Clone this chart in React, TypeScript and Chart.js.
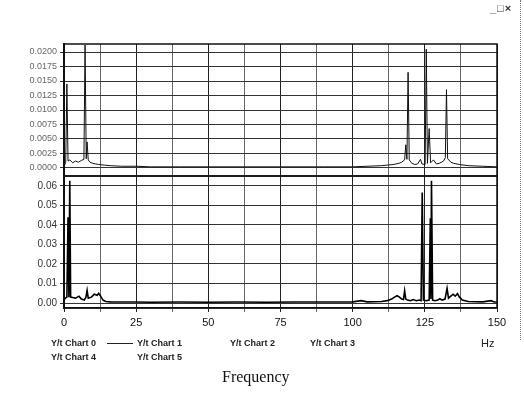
import React, { useEffect, useRef } from "react";
import { Chart, registerables } from "chart.js";
Chart.register(...registerables);

// Upper panel spectrum (Hz, amplitude)
const topFreq = [
  0, 0.6, 1.0, 1.4, 2, 3, 4, 5, 6, 6.9, 7.3, 7.7, 8.0, 8.4, 9, 10, 11, 12, 14, 16, 20, 25, 30, 40, 50, 60, 70, 80, 90, 100,
  105, 110, 112, 114, 116, 117, 118, 118.4, 118.8, 119.2, 119.6, 120.5, 121.5, 122.5, 123.5, 124, 125.1, 125.5, 125.9,
  126.5, 127, 128, 129, 130, 131.5, 132.1, 132.5, 132.9, 134, 135, 137, 140, 145, 150,
];
const topVal = [
  0.0002, 0.001, 0.0145, 0.0012, 0.0014, 0.0009, 0.0012, 0.001, 0.0013, 0.0015, 0.0212, 0.0016, 0.0045, 0.0014, 0.001,
  0.0008, 0.0007, 0.0006, 0.0005, 0.0004, 0.0003, 0.0003, 0.0002, 0.0002, 0.0002, 0.0002, 0.0002, 0.0002, 0.0002, 0.0002,
  0.0003, 0.0004, 0.0005, 0.0006, 0.0008, 0.001, 0.0014, 0.004, 0.0015, 0.0165, 0.0014, 0.0008, 0.0006, 0.0007, 0.0015,
  0.0007, 0.0006, 0.0205, 0.0008, 0.0068, 0.0009, 0.0014, 0.0007, 0.0008, 0.0012, 0.0018, 0.0135, 0.0016, 0.001, 0.0008,
  0.0006, 0.0004, 0.0003, 0.0002,
];

// Lower panel spectrum (Hz, amplitude)
const botFreq = [
  0, 0.5, 1.0, 1.4, 1.7, 2.0, 2.3, 3, 4, 5.2, 6, 7, 7.6, 8.0, 8.4, 9.5, 10.5, 11.5, 12.0, 12.7, 13.5, 14.5, 16, 20, 25,
  30, 40, 50, 60, 70, 80, 90, 100, 103, 105, 110, 112, 113.5, 114.5, 115.4, 116.2, 117, 117.6, 118, 118.4, 119, 120, 121,
  122, 123, 123.7, 124.1, 124.5, 125.5, 126.5, 126.9, 127.1, 127.3, 127.7, 128.5, 129.5, 130.2, 131, 132, 132.7, 133.2,
  134, 134.8, 135.5, 136.3, 137, 138, 140, 145, 148, 149, 150,
];
const botVal = [
  0.0015, 0.0025, 0.003, 0.044, 0.003, 0.0627, 0.003, 0.0028, 0.0025, 0.0035, 0.002, 0.0015, 0.003, 0.0065, 0.0025,
  0.003, 0.0045, 0.004, 0.005, 0.0035, 0.0015, 0.0008, 0.0006, 0.0005, 0.0005, 0.0004, 0.0005, 0.0004, 0.0005, 0.0004,
  0.0005, 0.0005, 0.0006, 0.0012, 0.0006, 0.0008, 0.0012, 0.002, 0.003, 0.0037, 0.003, 0.002, 0.0018, 0.0063, 0.002,
  0.0015, 0.0012, 0.0018, 0.0012, 0.0015, 0.0012, 0.0566, 0.0015, 0.0012, 0.0015, 0.0434, 0.002, 0.0627, 0.0015, 0.0012,
  0.0015, 0.0022, 0.0015, 0.002, 0.0075, 0.0025, 0.0035, 0.0045, 0.0035, 0.0048, 0.003, 0.0015, 0.0008, 0.0006, 0.0012,
  0.0005, 0.0005,
];

const topTicks = [0, 0.0025, 0.005, 0.0075, 0.01, 0.0125, 0.015, 0.0175, 0.02];
const topTickLabels = ["0.0000", "0.0025", "0.0050", "0.0075", "0.0100", "0.0125", "0.0150", "0.0175", "0.0200"];
const botTicks = [0, 0.01, 0.02, 0.03, 0.04, 0.05, 0.06];
const botTickLabels = ["0.00", "0.01", "0.02", "0.03", "0.04", "0.05", "0.06"];
const xTicks = [0, 12.5, 25, 37.5, 50, 62.5, 75, 87.5, 100, 112.5, 125, 137.5, 150];
const xTickLabels = ["0", "", "25", "", "50", "", "75", "", "100", "", "125", "", "150"];
const legendLabels = ["Y/t Chart 0", "Y/t Chart 1", "Y/t Chart 2", "Y/t Chart 3", "Y/t Chart 4", "Y/t Chart 5"];
const xUnit = "Hz";
const xTitle = "Frequency";

const sans = "'Liberation Sans', Arial, sans-serif";

export default function App() {
  const ref = useRef<HTMLCanvasElement | null>(null);

  useEffect(() => {
    if (!ref.current) return;
    const panelBorder = {
      id: "panelBorder",
      afterDraw(chart: any) {
        const ctx = chart.ctx;
        const a = chart.chartArea;
        ctx.save();
        ctx.strokeStyle = "#111";
        ctx.lineWidth = 1.5;
        ["yTop", "yBot"].forEach((id) => {
          const s = chart.scales[id];
          ctx.strokeRect(a.left, s.top, a.right - a.left, s.bottom - s.top);
        });
        ctx.restore();
      },
    };
    const chart = new Chart(ref.current, {
      type: "line",
      data: {
        datasets: [
          {
            label: "bottom",
            data: botFreq.map((f, i) => ({ x: f, y: botVal[i] })),
            yAxisID: "yBot",
            borderColor: "#000",
            borderWidth: 1.6,
            pointRadius: 0,
            tension: 0,
          },
          {
            label: "top",
            data: topFreq.map((f, i) => ({ x: f, y: topVal[i] })),
            yAxisID: "yTop",
            borderColor: "#111",
            borderWidth: 1,
            pointRadius: 0,
            tension: 0,
          },
        ],
      },
      options: {
        responsive: false,
        animation: false,
        events: [],
        layout: { padding: { left: 0, right: 27, top: 44, bottom: 64 } },
        plugins: { legend: { display: false }, tooltip: { enabled: false } },
        scales: {
          x: {
            type: "linear",
            min: 0,
            max: 150,
            afterBuildTicks: (ax: any) => {
              ax.ticks = xTicks.map((v) => ({ value: v }));
            },
            afterFit: (s: any) => {
              s.height = 24;
            },
            ticks: {
              autoSkip: false,
              maxRotation: 0,
              padding: 4,
              color: "#111",
              font: { family: sans, size: 11 },
              callback: (_v: any, i: number) => xTickLabels[i],
            },
            grid: {
              color: (c: any) => (c.tick && c.tick.value % 25 === 0 ? "#222" : "#666"),
              lineWidth: 1,
              tickLength: 4,
            },
            border: { color: "#111", width: 1.5 },
          },
          yBot: {
            type: "linear",
            position: "left",
            stack: "panels",
            stackWeight: 1,
            min: -0.00256,
            max: 0.0651,
            afterBuildTicks: (ax: any) => {
              ax.ticks = botTicks.map((v) => ({ value: v }));
            },
            afterFit: (s: any) => {
              s.width = 64;
            },
            ticks: {
              autoSkip: false,
              padding: 3,
              color: "#333",
              font: { family: sans, size: 10 },
              callback: (_v: any, i: number) => botTickLabels[i],
            },
            grid: { color: "#333", lineWidth: 1, tickLength: 4 },
            border: { color: "#111", width: 2 },
          },
          yTop: {
            type: "linear",
            position: "left",
            stack: "panels",
            stackWeight: 1,
            min: -0.00138,
            max: 0.02138,
            afterBuildTicks: (ax: any) => {
              ax.ticks = topTicks.map((v) => ({ value: v }));
            },
            afterFit: (s: any) => {
              s.width = 64;
            },
            ticks: {
              autoSkip: false,
              padding: 3,
              color: "#666",
              font: { family: sans, size: 9 },
              callback: (_v: any, i: number) => topTickLabels[i],
            },
            grid: { color: "#333", lineWidth: 1, tickLength: 4 },
            border: { color: "#111", width: 2 },
          },
        },
      } as any,
      plugins: [panelBorder],
    });
    return () => chart.destroy();
  }, []);

  const legendPos = [
    { left: 51, top: 338 },
    { left: 137, top: 338 },
    { left: 230, top: 338 },
    { left: 310, top: 338 },
    { left: 51, top: 352 },
    { left: 137, top: 352 },
  ];

  return (
    <div style={{ position: "fixed", left: 0, top: 0, width: 524, height: 396, background: "#fff", overflow: "hidden" }}>
      <canvas ref={ref} width={524} height={396} style={{ position: "absolute", left: 0, top: 0 }} />
      {legendLabels.map((t, i) => (
        <div
          key={t}
          style={{
            position: "absolute",
            left: legendPos[i].left,
            top: legendPos[i].top,
            font: `bold 9px ${sans}`,
            color: "#222",
            whiteSpace: "nowrap",
          }}
        >
          {t}
        </div>
      ))}
      <div style={{ position: "absolute", left: 107, top: 343, width: 26, borderTop: "1px solid #222" }} />
      <div style={{ position: "absolute", left: 481, top: 337, font: `11px ${sans}`, color: "#222" }}>{xUnit}</div>
      <div
        style={{
          position: "absolute",
          left: 222,
          top: 368,
          font: "16px 'Liberation Serif', 'Times New Roman', serif",
          color: "#111",
          whiteSpace: "nowrap",
        }}
      >
        {xTitle}
      </div>
      <div style={{ position: "absolute", left: 490, top: 2, font: `bold 11px ${sans}`, color: "#333", letterSpacing: 1 }}>
        _□×
      </div>
      <div style={{ position: "absolute", left: 520, top: 0, height: 340, borderLeft: "1px dotted #777" }} />
    </div>
  );
}
